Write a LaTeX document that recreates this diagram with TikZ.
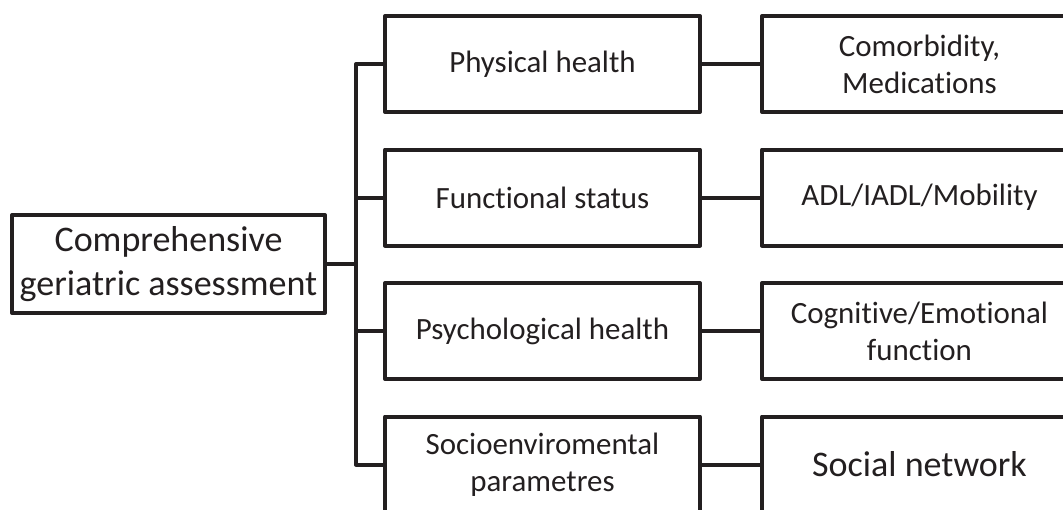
\documentclass[tikz,border=0pt]{standalone}
\usepackage{fontspec}
\setmainfont{Carlito}[Ligatures={NoCommon}]
\usetikzlibrary{positioning}

\definecolor{inkgray}{RGB}{35,31,32}

\begin{document}
\begin{tikzpicture}[line width=0.08cm,line join=round,color=inkgray,
  box/.style={draw,rectangle,align=center,inner sep=0pt,minimum width=6.3cm,minimum height=1.92cm,font=\fontsize{17.6}{21}\selectfont},
  bigtext/.style={font=\fontsize{20.5}{24.6}\selectfont}]
  \clip (0,0) rectangle (21.26,-10.18);
  \node[box,bigtext,minimum width=6.26cm,minimum height=1.96cm] at (3.37,-5.28) (cga) {Comprehensive\\geriatric assessment};
  \node[box] at (10.85,-1.28) (phys) {Physical health};
  \node[box,below=0.67cm of phys] (func) {Functional status};
  \node[box,below=0.67cm of func] (psych) {Psychological health};
  \node[box,below=0.67cm of psych] (socio) {Socioenviromental\\parametres};
  \node[box,right=1.16cm of phys] (comorb) {Comorbidity,\\Medications};
  \node[box,right=1.16cm of func] (adl) {ADL/IADL/Mobility};
  \node[box,right=1.16cm of psych] (cogn) {Cognitive/Emotional\\function};
  \node[box,bigtext,right=1.16cm of socio] (social) {Social network};
  \coordinate (trunk) at (7.12,0);
  \draw (cga.east) -- (trunk |- cga.east);
  \draw (phys.west) -- (trunk |- phys.west) -- (trunk |- socio.west) -- (socio.west);
  \draw (trunk |- func.west) -- (func.west);
  \draw (trunk |- psych.west) -- (psych.west);
  \foreach \m/\r in {phys/comorb,func/adl,psych/cogn,socio/social}{
    \draw (\m.east) -- (\r.west);
  }
\end{tikzpicture}
\end{document}
